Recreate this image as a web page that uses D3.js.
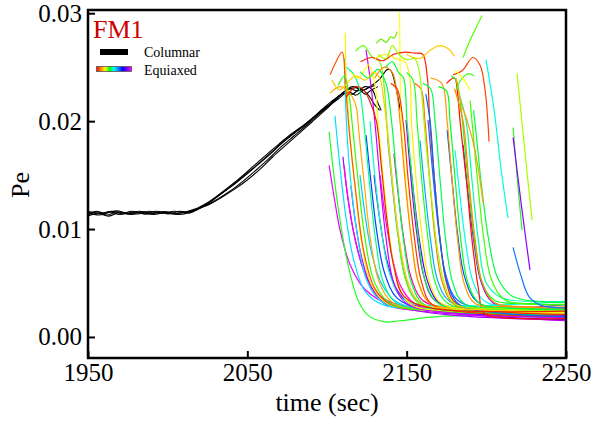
<!DOCTYPE html>
<html><head><meta charset="utf-8">
<script src="https://cdn.jsdelivr.net/npm/d3@7"></script>
<style>body{margin:0;background:#fff}svg{display:block}</style>
</head><body>
<svg id="c" width="592" height="423"></svg>
<script>
// ---------- axis / tick data ----------
const xDomain = [1950, 2250];
const yDomain = [-0.00195, 0.0303];
const xTicks = [1950, 2050, 2150, 2250];
const yTicks = [0.00, 0.01, 0.02, 0.03];
const xLabel = "time (sec)";
const yLabel = "Pe";
const panelTitle = "FM1";
const legendLabels = ["Columnar", "Equiaxed"];

// ---------- columnar (black) ----------
const col1 = [[1950,0.01130],[1956,0.01160],[1962,0.01130],[1968,0.01160],[1975,0.01140],[1982,0.01165],[1990,0.01145],[1998,0.01162],[2005,0.01145],[2012,0.01162],[2018,0.01190],[2025,0.01245],[2032,0.01310],[2040,0.01395],[2048,0.01490],[2056,0.01590],[2064,0.01690],[2072,0.01800],[2080,0.01895],[2088,0.01985],[2096,0.02090],[2102,0.02160],[2108,0.02240],[2113,0.02290],[2118,0.02310],[2123,0.02290],[2128,0.02330],[2133,0.02390],[2138,0.02480],[2140,0.02470],[2143,0.02330],[2146,0.02100]];
const col2 = [[1950,0.01155],[1957,0.01130],[1963,0.01160],[1970,0.01135],[1977,0.01165],[1985,0.01140],[1993,0.01165],[2000,0.01140],[2008,0.01165],[2014,0.01150],[2020,0.01190],[2027,0.01235],[2034,0.01295],[2042,0.01370],[2050,0.01455],[2058,0.01555],[2066,0.01670],[2074,0.01775],[2082,0.01880],[2090,0.01985],[2098,0.02090],[2104,0.02175],[2109,0.02250],[2114,0.02300],[2119,0.02280],[2124,0.02320],[2128,0.02300],[2131,0.02200],[2134,0.02100]];
const col3 = [[1950,0.01165],[1958,0.01145],[1965,0.01165],[1972,0.01140],[1980,0.01160],[1987,0.01138],[1995,0.01158],[2003,0.01140],[2010,0.01155],[2017,0.01175],[2023,0.01220],[2030,0.01295],[2038,0.01385],[2046,0.01480],[2054,0.01585],[2062,0.01690],[2070,0.01790],[2078,0.01885],[2086,0.01970],[2094,0.02065],[2100,0.02130],[2106,0.02210],[2111,0.02275],[2116,0.02320],[2120,0.02300],[2124,0.02250],[2127,0.02280],[2132,0.02320]];
const col4 = [[1950,0.01140],[1955,0.01165],[1961,0.01145],[1968,0.01170],[1974,0.01148],[1981,0.01140],[1988,0.01165],[1996,0.01145],[2004,0.01165],[2011,0.01155],[2018,0.01180],[2024,0.01220],[2031,0.01275],[2039,0.01350],[2047,0.01440],[2055,0.01540],[2063,0.01645],[2071,0.01760],[2079,0.01860],[2087,0.01960],[2095,0.02065],[2101,0.02140],[2107,0.02205],[2112,0.02260],[2116,0.02250],[2121,0.02300],[2126,0.02240],[2130,0.02150],[2133,0.02100]];
const col5 = [[1950,0.01120],[1956,0.01145],[1963,0.01120],[1970,0.01155],[1977,0.01135],[1984,0.01160],[1991,0.01135],[1999,0.01155],[2006,0.01135],[2013,0.01150],[2019,0.01185],[2026,0.01240],[2033,0.01320],[2041,0.01410],[2049,0.01505],[2057,0.01605],[2065,0.01710],[2073,0.01815],[2081,0.01910],[2089,0.02005],[2097,0.02110],[2103,0.02185],[2109,0.02245],[2114,0.02270],[2118,0.02240],[2122,0.02280],[2126,0.02310],[2130,0.02330]];
const columnarSeries = [col1, col2, col3, col4, col5];

// ---------- equiaxed (rainbow) ----------
const eq01 = [[2111,0.0258],[2112,0.0205],[2114.5,0.0150],[2119,0.0095],[2125,0.0052],[2134,0.0033],[2150,0.0027],[2250,0.0024]];
const eq02 = [[2111.5,0.0282],[2112,0.0240],[2114,0.0195],[2117.5,0.0140],[2122,0.0085],[2128,0.0048],[2138,0.0031],[2160,0.0025],[2250,0.0022]];
const eq03 = [[2102,0.0243],[2105,0.0253],[2109.5,0.0264],[2111.5,0.0235],[2114,0.0190],[2118,0.0135],[2123,0.0080],[2130,0.0045],[2140,0.0030],[2165,0.0025],[2250,0.0023]];
const eq04 = [[2107,0.0233],[2111,0.0242],[2114,0.0222],[2116,0.0195],[2119.5,0.0145],[2124,0.0090],[2130,0.0050],[2140,0.0031],[2170,0.0024],[2250,0.0021]];
const eq05 = [[2102,0.0226],[2108,0.0232],[2113,0.0228],[2118,0.0215],[2120,0.0190],[2123.5,0.0140],[2127.5,0.0088],[2133,0.0050],[2142,0.0031],[2170,0.0026],[2250,0.0024]];
const eq06 = [[2112,0.0250],[2116,0.0245],[2120,0.0232],[2123,0.0200],[2126.5,0.0145],[2130.5,0.0090],[2135.5,0.0050],[2144,0.0031],[2175,0.0026],[2250,0.0025]];
const eq07 = [[2124.5,0.0266],[2127,0.0240],[2130,0.0200],[2133,0.0150],[2137,0.0092],[2142,0.0050],[2150,0.0031],[2180,0.0022],[2250,0.0018]];
const eq08 = [[2115,0.0245],[2120,0.0240],[2126,0.0252],[2130,0.0235],[2132,0.0200],[2135.5,0.0145],[2139.5,0.0090],[2144.5,0.0050],[2153,0.0030],[2180,0.0024],[2250,0.0022]];
const eq09 = [[2118,0.0265],[2123,0.0270],[2128,0.0260],[2133,0.0255],[2136,0.0230],[2137.5,0.0200],[2141,0.0145],[2145,0.0090],[2150,0.0050],[2158,0.0031],[2190,0.0025],[2250,0.0023]];
const eq10 = [[2121,0.0246],[2126,0.0240],[2132,0.0248],[2137,0.0235],[2140.5,0.0200],[2144,0.0145],[2148,0.0090],[2153,0.0050],[2161,0.0030],[2190,0.0023],[2250,0.0021]];
const eq11 = [[2145.5,0.0301],[2146,0.0240],[2146.5,0.0200],[2149.5,0.0145],[2153,0.0090],[2157.5,0.0050],[2165,0.0031],[2195,0.0025],[2250,0.0022]];
const eq12 = [[2130,0.0240],[2136,0.0250],[2141,0.0245],[2144,0.0225],[2145.8,0.0200],[2149,0.0145],[2153,0.0090],[2157.5,0.0050],[2165,0.0031],[2195,0.0027],[2250,0.0026]];
const eq13 = [[2121,0.0255],[2128,0.0259],[2135,0.0256],[2142,0.0262],[2149,0.0264],[2155,0.0263],[2160,0.0262],[2163,0.0240],[2164.5,0.0200],[2167.5,0.0145],[2171,0.0090],[2175,0.0050],[2181,0.0031],[2205,0.0024],[2250,0.0021]];
const eq14 = [[2140,0.0235],[2144,0.0230],[2147.7,0.0200],[2151,0.0145],[2155,0.0090],[2159.5,0.0050],[2166,0.0030],[2195,0.0022],[2250,0.0019]];
const eq15 = [[2137,0.0250],[2141,0.0255],[2145,0.0245],[2148,0.0240],[2150.2,0.0200],[2153.5,0.0145],[2157.5,0.0090],[2162,0.0050],[2170,0.0031],[2200,0.0026],[2250,0.0024]];
const eq16 = [[2130,0.0258],[2137,0.0262],[2143,0.0258],[2149,0.0255],[2152,0.0240],[2153,0.0200],[2156,0.0145],[2160,0.0090],[2164.5,0.0050],[2172,0.0031],[2200,0.0025],[2250,0.0023]];
const eq17 = [[2150,0.0245],[2154,0.0238],[2156.5,0.0200],[2159.5,0.0145],[2163.5,0.0090],[2168,0.0050],[2176,0.0031],[2205,0.0026],[2250,0.0025]];
const eq18 = [[2175,0.0235],[2180,0.0240],[2182,0.0225],[2183.5,0.0200],[2187.5,0.0145],[2191,0.0090],[2195,0.0045],[2198.5,0.0022],[2210,0.0018],[2250,0.0017]];
const eq19 = [[2155,0.0235],[2159,0.0230],[2161.5,0.0200],[2164.5,0.0145],[2168,0.0090],[2172.5,0.0050],[2180,0.0030],[2205,0.0027],[2250,0.0027]];
const eq20 = [[2162,0.0225],[2164.7,0.0200],[2167.5,0.0145],[2171,0.0090],[2175.5,0.0050],[2183,0.0030],[2210,0.0022],[2250,0.0019]];
const eq21 = [[2160,0.0235],[2165,0.0230],[2167.8,0.0200],[2171,0.0145],[2174.5,0.0090],[2179,0.0050],[2186,0.0031],[2210,0.0027],[2250,0.0026]];
const eq22 = [[2150,0.0262],[2158,0.0258],[2165,0.0266],[2171,0.0270],[2177,0.0266],[2180,0.0260]];
const eq23 = [[2165,0.0240],[2172,0.0235],[2175.4,0.0200],[2178.5,0.0145],[2182,0.0090],[2186,0.0050],[2193,0.0031],[2215,0.0028],[2250,0.0027]];
const eq24 = [[2170,0.0232],[2175,0.0228],[2177.2,0.0200],[2180.5,0.0145],[2184,0.0090],[2188.5,0.0050],[2196,0.0031],[2220,0.0026],[2250,0.0025]];
const eq25 = [[2178,0.0242],[2181,0.0238],[2183,0.0225],[2185,0.0200],[2188.5,0.0145],[2192.5,0.0090],[2197,0.0052],[2205,0.0034],[2225,0.0031],[2250,0.0030]];
const eq26 = [[2180,0.0230],[2185.4,0.0200],[2189,0.0145],[2193,0.0090],[2197.5,0.0050],[2205,0.0032],[2230,0.0028],[2250,0.0028]];
const eq27 = [[2183,0.0225],[2187.3,0.0200],[2191,0.0145],[2195,0.0090],[2200,0.0050],[2210,0.0036],[2235,0.0033],[2250,0.0033]];
const eq28 = [[2189.8,0.0219],[2191,0.0200],[2194.5,0.0145],[2198.5,0.0090],[2203.5,0.0052],[2212,0.0034],[2235,0.0030],[2250,0.0030]];
const eq29 = [[2192,0.0210],[2193.5,0.0190],[2197,0.0140],[2201.5,0.0090],[2207,0.0055],[2216,0.0038],[2240,0.0032],[2250,0.0032]];
const eq30 = [[2179,0.0243],[2185,0.0247],[2191.5,0.0259],[2196,0.0252],[2199.2,0.0229],[2201.7,0.0181]];
const eq31 = [[2181,0.0240],[2184.5,0.0215],[2187.9,0.0201],[2192.9,0.0173],[2198,0.0124]];
const eq32 = [[2199.8,0.0257],[2204.9,0.0210],[2209.3,0.0155],[2213.6,0.0110]];
const eq33 = [[2219.3,0.0244],[2224,0.0175],[2228.7,0.0108]];
const eq34 = [[2216.8,0.0194],[2219.5,0.0145],[2222.4,0.0099]];
const eq35 = [[2216.8,0.0185],[2222,0.0122],[2227.4,0.0062]];
const eq36 = [[2216.8,0.0083],[2221.5,0.0058],[2227,0.0037],[2235,0.0029],[2250,0.0027]];
const eq37 = [[2185.4,0.0259],[2189.8,0.0275],[2197.3,0.0298]];
const eq38 = [[2181,0.0229],[2184,0.0238],[2188.6,0.0244],[2192.4,0.0242]];
const eq39 = [[2180.4,0.0247],[2185,0.0240],[2189.8,0.0229]];
const eq40 = [[2103,0.0238],[2108,0.0229],[2113,0.0236],[2118,0.0242],[2124,0.0238],[2129,0.0245],[2133,0.0240],[2136,0.0215],[2138.5,0.0180],[2142,0.0130],[2146,0.0085],[2151,0.0050],[2159,0.0031],[2185,0.0026],[2250,0.0024]];
const eq41 = [[2132,0.0262],[2137,0.0258],[2141,0.0270],[2145,0.0262],[2150,0.0257],[2155,0.0258],[2158,0.0245],[2160,0.0215],[2162,0.0180],[2165.5,0.0130],[2169,0.0085],[2173.5,0.0050],[2180,0.0031],[2210,0.0026],[2250,0.0024]];
const eq42 = [[2131,0.0272],[2134,0.0276],[2137,0.0273],[2140,0.0278],[2142,0.0277],[2144,0.0283]];
const eq43 = [[2112,0.0222],[2118,0.0232],[2123,0.0229],[2127,0.0218],[2131,0.0200],[2134,0.0160],[2137.5,0.0110],[2142,0.0065],[2148,0.0038],[2165,0.0027],[2250,0.0024]];
const eq44 = [[2101.3,0.0159],[2105,0.0125],[2108.2,0.0099],[2114.5,0.0067],[2123.9,0.0044],[2139.6,0.0030],[2171,0.0025],[2250,0.0021]];
const eq45 = [[2101.3,0.0190],[2106.3,0.0127],[2112.6,0.0071],[2119.5,0.0034],[2125.8,0.0020],[2136.4,0.0014],[2145.8,0.0015],[2171,0.0019],[2250,0.0022]];
const eq46 = [[2110,0.0167],[2113,0.0130],[2117,0.0095],[2123,0.0062],[2131,0.0040],[2145,0.0028],[2180,0.0020],[2250,0.0016]];
const eq47 = [[2110.7,0.0159],[2114,0.0120],[2118.5,0.0085],[2125,0.0055],[2135,0.0036],[2155,0.0027],[2200,0.0022],[2250,0.0020]];
const eq48 = [[2120.7,0.0150],[2124,0.0112],[2128,0.0078],[2134,0.0050],[2143,0.0033],[2160,0.0026],[2250,0.0022]];
const eq49 = [[2124.5,0.0187],[2127.5,0.0145],[2131,0.0100],[2136,0.0060],[2144,0.0036],[2160,0.0026],[2250,0.0018]];
const eq50 = [[2129.5,0.0150],[2133,0.0110],[2137,0.0075],[2143,0.0046],[2152,0.0031],[2175,0.0025],[2250,0.0020]];
const eq51 = [[2133.3,0.0150],[2136.5,0.0112],[2140.5,0.0077],[2146,0.0048],[2155,0.0031],[2180,0.0024],[2250,0.0022]];
const eq52 = [[2149.6,0.0201],[2152.5,0.0150],[2156,0.0100],[2160.5,0.0058],[2167,0.0035],[2185,0.0026],[2250,0.0030]];
const eq53 = [[2158.4,0.0182],[2161.5,0.0135],[2165,0.0090],[2169.5,0.0052],[2177,0.0033],[2200,0.0027],[2250,0.0025]];
const eq54 = [[2163.4,0.0201],[2166.5,0.0150],[2170,0.0100],[2174.5,0.0058],[2182,0.0034],[2205,0.0025],[2250,0.0022]];
const eq55 = [[2175.4,0.0192],[2178.5,0.0145],[2182,0.0095],[2186.5,0.0055],[2194,0.0033],[2215,0.0024],[2250,0.0021]];
const eq56 = [[2185.4,0.0178],[2188.5,0.0133],[2192,0.0090],[2196.5,0.0052],[2204,0.0032],[2225,0.0022],[2250,0.0016]];
const eq57 = [[2180.4,0.0173],[2183.5,0.0130],[2187,0.0088],[2191.5,0.0052],[2199,0.0033],[2220,0.0027],[2250,0.0026]];
const eq58 = [[2115,0.0140],[2118,0.0105],[2122,0.0072],[2128,0.0045],[2137,0.0030],[2160,0.0024],[2250,0.0015]];
const eq59 = [[2105,0.0205],[2108,0.0160],[2112,0.0110],[2117,0.0070],[2124,0.0042],[2135,0.0030],[2170,0.0025],[2250,0.0023]];
const eq60 = [[2138,0.0185],[2141,0.0140],[2144.5,0.0095],[2149,0.0056],[2156,0.0034],[2175,0.0025],[2250,0.0022]];
const eq61 = [[2142,0.0170],[2145,0.0128],[2148.5,0.0088],[2153,0.0054],[2160,0.0034],[2180,0.0026],[2250,0.0024]];
const eq62 = [[2152,0.0165],[2155,0.0125],[2158.5,0.0085],[2163,0.0052],[2170,0.0032],[2190,0.0022],[2250,0.0016]];
const eq63 = [[2127,0.0200],[2130,0.0150],[2134,0.0100],[2139,0.0060],[2147,0.0036],[2165,0.0029],[2250,0.0033]];

const equiaxedSeries = [eq44,eq45,eq46,eq47,eq48,eq49,eq50,eq51,eq52,eq53,eq54,eq55,eq56,eq57,eq58,eq59,eq60,eq61,eq62,eq63,
  eq01,eq02,eq03,eq04,eq05,eq06,eq07,eq08,eq09,eq10,eq11,eq12,eq13,eq14,eq15,eq16,eq17,eq18,eq19,eq20,
  eq21,eq22,eq23,eq24,eq25,eq26,eq27,eq28,eq29,eq30,eq31,eq32,eq33,eq34,eq35,eq36,eq37,eq38,eq39,eq40,eq41,eq42,eq43];
const equiaxedColors = ["#ee00ff","#22ff22","#a000ff","#ff00ee","#00ccff","#0040ff","#7000ff","#ff00ff","#9000ff","#00aaff","#2060ff","#0050ff","#8800ff","#00ffee","#cc00ff","#00e0ff","#0099ff","#ff00aa","#5500ff","#00ffcc",
  "#00e5ff","#ffee00","#ff5500","#33ff00","#ffaa00","#00ff88","#cc00ff","#ffff00","#66ff00","#00ff44","#ffff22","#ff8800","#ff2200","#ff3300","#00ff33","#ffee00","#22ff22","#ff1100","#ff7700","#0066ff",
  "#00ff55","#ffcc00","#ff9900","#00ff22","#11ff11","#ff8800","#00ffaa","#44ff00","#00ff44","#ff4400","#ffa000","#00ffdd","#aaff00","#33ee33","#8800ff","#1177ff","#55ff00","#44ff22","#ffff00","#ffcc00","#99ff00","#66ee00","#ee2200"];
const legendGradient = ["#ff0000","#ff8000","#ffff00","#00ff00","#00ffff","#0080ff","#0000ff","#8000ff","#ff00ff"];

// ---------- drawing ----------
const svg = d3.select("#c");
const L = 88, R = 566, T = 10, B = 358;
const x = d3.scaleLinear().domain(xDomain).range([L, R]);
const y = d3.scaleLinear().domain(yDomain).range([B, T]);
const serif = "'Liberation Serif','Times New Roman',serif";

svg.append("defs").append("clipPath").attr("id","clip")
  .append("rect").attr("x",L).attr("y",T).attr("width",R-L).attr("height",B-T);

const line = d3.line().x(d=>x(d[0])).y(d=>y(d[1])).curve(d3.curveCatmullRom.alpha(0.5));
const plot = svg.append("g").attr("clip-path","url(#clip)");

plot.selectAll("path.col").data(columnarSeries).join("path").attr("class","col")
  .attr("d", line).attr("fill","none").attr("stroke","#000").attr("stroke-width",1.1);

plot.selectAll("path.eq").data(equiaxedSeries).join("path").attr("class","eq")
  .attr("d", line).attr("fill","none")
  .attr("stroke",(d,i)=>equiaxedColors[i % equiaxedColors.length])
  .attr("stroke-width",1.2);

// axes
const xAxis = d3.axisBottom(x).tickValues(xTicks).tickSize(-7).tickPadding(4).tickFormat(d3.format("d"));
const gx = svg.append("g").attr("transform",`translate(0,${B})`).call(xAxis);
gx.select(".domain").remove();
gx.selectAll("line").attr("stroke","#000").attr("stroke-width",2);
gx.selectAll("text").attr("font-family",serif).attr("font-size",25).attr("fill","#000").attr("dy","0.75em");

const yAxis = d3.axisLeft(y).tickValues(yTicks).tickSize(-7).tickPadding(6).tickFormat(d3.format(".2f"));
const gy = svg.append("g").attr("transform",`translate(${L},0)`).call(yAxis);
gy.select(".domain").remove();
gy.selectAll("line").attr("stroke","#000").attr("stroke-width",2);
gy.selectAll("text").attr("font-family",serif).attr("font-size",25).attr("fill","#000");

// frame
svg.append("rect").attr("x",L).attr("y",T).attr("width",R-L).attr("height",B-T)
  .attr("fill","none").attr("stroke","#000").attr("stroke-width",2.5);

// labels
svg.append("text").attr("x",(L+R)/2).attr("y",411).attr("text-anchor","middle")
  .attr("font-family",serif).attr("font-size",26).text(xLabel);
svg.append("text").attr("transform","translate(29,185) rotate(-90)").attr("text-anchor","middle")
  .attr("font-family",serif).attr("font-size",26).text(yLabel);

// panel title
svg.append("text").attr("x",93).attr("y",38).attr("font-family",serif).attr("font-size",26)
  .attr("fill","#cc0000").text(panelTitle);

// legend
const grad = svg.select("defs").append("linearGradient").attr("id","rb");
grad.selectAll("stop").data(legendGradient).join("stop")
  .attr("offset",(d,i)=>i/(legendGradient.length-1)).attr("stop-color",d=>d);
svg.append("rect").attr("x",100).attr("y",49).attr("width",28).attr("height",6).attr("fill","#000");
svg.append("rect").attr("x",96.5).attr("y",66.5).attr("width",35).attr("height",5).attr("fill","url(#rb)")
  .attr("stroke","#555").attr("stroke-width",0.8);
svg.append("text").attr("x",144).attr("y",57).attr("font-family",serif).attr("font-size",14).text(legendLabels[0]);
svg.append("text").attr("x",144).attr("y",75).attr("font-family",serif).attr("font-size",14).text(legendLabels[1]);
</script>
</body></html>
